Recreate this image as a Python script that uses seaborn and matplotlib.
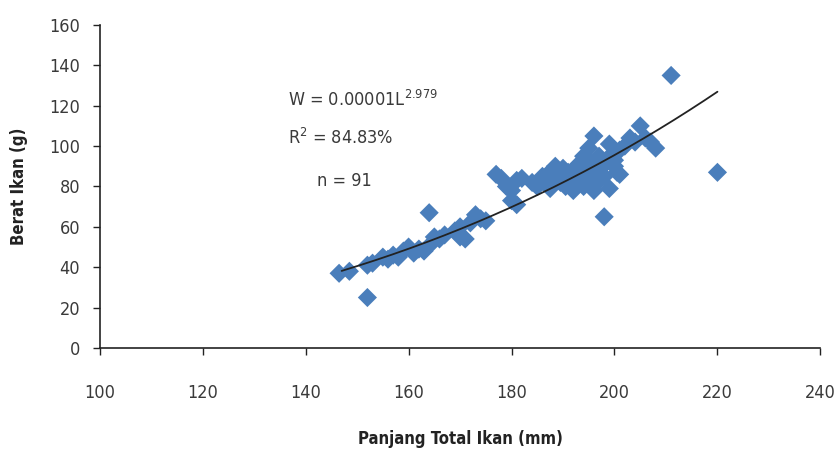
import numpy as np
import pandas as pd
import seaborn as sns
import matplotlib.pyplot as plt

# --- data ---
panjang = [146.5, 148.5, 152, 152, 153, 155, 156, 157, 158, 159,
           160, 161, 162, 163, 164, 164.5, 165, 166, 167, 169,
           170, 170, 171, 172, 173, 174, 175, 177, 178, 179,
           180, 180, 181, 181, 182, 184, 185, 185.5, 186, 186.5,
           187, 187.5, 188, 188, 188.5, 189, 189.5, 190, 190, 190.5,
           191, 191, 191.5, 192, 192, 192.5, 193, 193, 193.5, 194,
           194, 194.5, 195, 195, 195.5, 196, 196, 196, 197, 197,
           197.5, 198, 198, 198.5, 199, 199, 199.5, 200, 200, 200.5,
           201, 201, 202, 203, 204, 205, 206, 207, 208, 211, 220]
berat = [37, 38, 25, 41, 42, 45, 44, 46, 45, 48,
         50, 47, 49, 48, 67, 52, 55, 54, 56, 58,
         60, 55, 54, 62, 66, 64, 63, 86, 84, 80,
         73, 78, 83, 71, 84, 82, 80, 83, 85, 82,
         86, 79, 88, 84, 90, 86, 82, 85, 89, 80,
         87, 83, 81, 88, 78, 85, 91, 82, 86, 95,
         80, 89, 99, 84, 92, 105, 88, 78, 95, 83,
         90, 65, 85, 92, 101, 79, 96, 90, 93, 87,
         98, 86, 100, 104, 102, 110, 104, 102, 99, 135, 87]

# power fit W = a * L^b (a tuned so the curve ends where the picture shows it)
fit_a = 1.335e-5
fit_b = 2.979
fit_range = [147, 220]

df = pd.DataFrame({'Panjang': panjang, 'Berat': berat})
L_fit = np.linspace(fit_range[0], fit_range[1], 200)
df_fit = pd.DataFrame({'Panjang': L_fit, 'Berat': fit_a * L_fit ** fit_b})

sns.set_style('white')
plt.rcParams['font.family'] = ['DejaVu Sans']
plt.rcParams['font.stretch'] = 'condensed'
plt.rcParams['mathtext.fontset'] = 'dejavusans'

txt = '#3a3a3a'
fig = plt.figure(figsize=(8.38, 4.54), dpi=100)
ax = fig.add_axes([0.119, 0.2335, 0.86, 0.7115])

sns.scatterplot(data=df, x='Panjang', y='Berat', marker='D', s=95,
                color='#4a7ebb', edgecolor='none', ax=ax, zorder=2)
sns.lineplot(data=df_fit, x='Panjang', y='Berat', color='#222222',
             linewidth=1.3, ax=ax, zorder=3)

ax.set_xlim(100, 240)
ax.set_ylim(0, 160)
ax.set_xticks(range(100, 241, 20))
ax.set_yticks(range(0, 161, 20))
ax.tick_params(axis='both', direction='out', length=5, width=1,
               labelsize=13, colors='#222222', labelcolor=txt,
               left=True, bottom=True)
ax.tick_params(axis='x', pad=21)
ax.tick_params(axis='y', pad=9)
for s in ['top', 'right']:
    ax.spines[s].set_visible(False)
for s in ['left', 'bottom']:
    ax.spines[s].set_color('#222222')
    ax.spines[s].set_linewidth(1.2)

ax.set_xlabel('Panjang Total Ikan (mm)', fontsize=12, fontweight='bold',
              color='#222222', labelpad=20)
ax.set_ylabel('Berat Ikan (g)', fontsize=12, fontweight='bold',
              color='#222222', labelpad=15)

ax.text(136.5, 120, r'W = 0.00001L$^{2.979}$', fontsize=13, color=txt)
ax.text(136.5, 101, r'R$^{2}$ = 84.83%', fontsize=13, color=txt)
ax.text(142.2, 80, 'n = 91', fontsize=13, color=txt)

fig.savefig('out.png', dpi=100)
